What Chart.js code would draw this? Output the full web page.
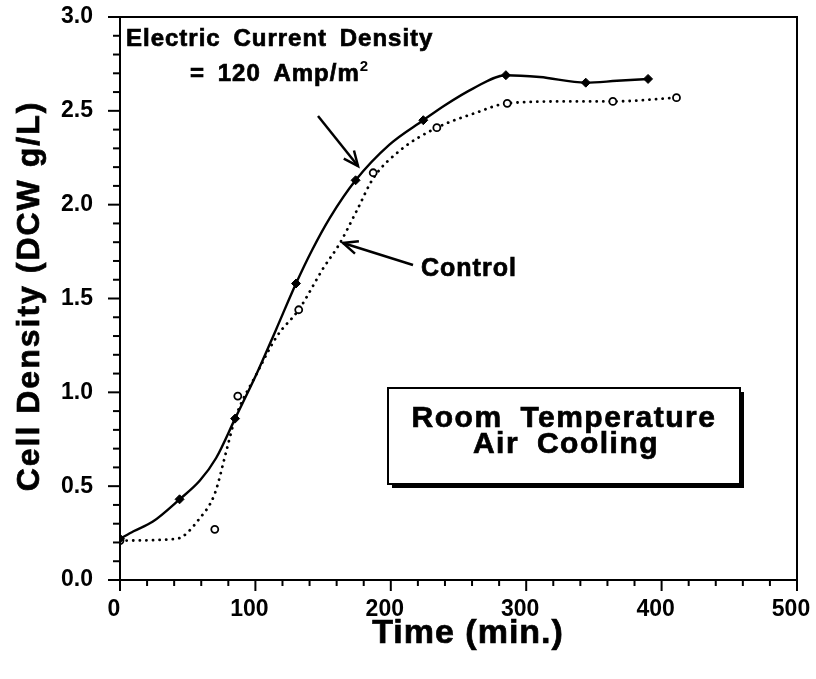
<!DOCTYPE html>
<html>
<head>
<meta charset="utf-8">
<script src="https://cdn.jsdelivr.net/npm/chart.js@4.4.1/dist/chart.umd.min.js"></script>
<style>
  html, body { margin: 0; padding: 0; background: #fff; }
  #wrap { width: 816px; height: 679px; }
</style>
</head>
<body>
<div id="wrap"><canvas id="myChart" width="816" height="679"></canvas></div>
<script>
// measured points, time (min) vs cell density (DCW g/L)
const timeEcd = [0, 44, 85, 130, 174, 224, 285, 344, 390];
const densEcd = [0.22, 0.43, 0.86, 1.58, 2.13, 2.45, 2.69, 2.65, 2.67];
const timeCtl = [0, 70, 87, 132, 187, 234, 286, 364, 411];
const densCtl = [0.21, 0.27, 0.98, 1.44, 2.17, 2.41, 2.54, 2.55, 2.57];

// hand drawn fit curves
const curveTimeEcd = [0, 10, 24, 44, 59, 71, 85, 101, 115, 130, 142, 155, 174, 199, 224, 240, 261, 285, 310, 344, 367, 390];
const curveDensEcd = [0.22, 0.26, 0.31, 0.43, 0.53, 0.65, 0.86, 1.10, 1.33, 1.58, 1.76, 1.93, 2.13, 2.32, 2.45, 2.53, 2.62, 2.69, 2.68, 2.65, 2.66, 2.67];
const curveTimeCtl = [0, 42, 59, 70, 79, 85, 101, 116, 132, 150, 162, 175, 187, 207, 234, 263, 286, 330, 364, 411];
const curveDensCtl = [0.21, 0.22, 0.33, 0.46, 0.70, 0.86, 1.10, 1.30, 1.44, 1.66, 1.79, 1.97, 2.14, 2.29, 2.41, 2.49, 2.54, 2.55, 2.55, 2.57];

const xTickLabels = [0, 100, 200, 300, 400, 500];
const yTickLabels = ['0.0', '0.5', '1.0', '1.5', '2.0', '2.5', '3.0'];

const FONT = "'Liberation Sans', Arial, Helvetica, sans-serif";
Chart.defaults.font.family = FONT;
Chart.defaults.color = '#000';

function toXY(xs, ys) {
  return xs.map((x, i) => ({ x: x, y: ys[i] }));
}
function isMajorY(v) {
  return yTickLabels.includes(Number(v).toFixed(1)) && Math.abs(v * 2 - Math.round(v * 2)) < 1e-6;
}
function isMajorX(v) {
  return xTickLabels.includes(Math.round(v)) && Math.abs(v - Math.round(v)) < 1e-6;
}

function arrow(ctx, x1, y1, x2, y2) {
  const a = Math.atan2(y2 - y1, x2 - x1);
  ctx.beginPath();
  ctx.moveTo(x1, y1);
  ctx.lineTo(x2, y2);
  ctx.stroke();
  ctx.beginPath();
  ctx.moveTo(x2 - 16 * Math.cos(a - 0.42), y2 - 16 * Math.sin(a - 0.42));
  ctx.lineTo(x2, y2);
  ctx.lineTo(x2 - 16 * Math.cos(a + 0.42), y2 - 16 * Math.sin(a + 0.42));
  ctx.stroke();
}

// bold text with a thin outline so it reads as heavy as the print
function heavyText(ctx, txt, x, y) {
  ctx.fillText(txt, x, y);
  ctx.lineWidth = 0.7;
  ctx.strokeText(txt, x, y);
}

const framePlugin = {
  id: 'frame',
  afterDraw(chart) {
    const ctx = chart.ctx;
    const xs = chart.scales.x, ys = chart.scales.y;
    const { left, right, top, bottom } = chart.chartArea;
    ctx.save();
    ctx.strokeStyle = '#000';
    ctx.fillStyle = '#000';
    ctx.lineCap = 'butt';

    // box
    ctx.lineWidth = 2;
    ctx.beginPath();
    ctx.moveTo(left - 8, top);
    ctx.lineTo(right, top);
    ctx.lineTo(right, bottom);
    ctx.moveTo(left, top);
    ctx.lineTo(left, bottom);
    ctx.lineTo(right, bottom);
    ctx.stroke();

    // ticks
    xs.ticks.forEach(t => {
      const px = xs.getPixelForValue(t.value);
      const len = isMajorX(t.value) ? 11 : 6;
      ctx.beginPath();
      ctx.moveTo(px, bottom);
      ctx.lineTo(px, bottom + len);
      ctx.stroke();
    });
    ys.ticks.forEach(t => {
      const py = ys.getPixelForValue(t.value);
      const len = isMajorY(t.value) ? 12 : 7;
      ctx.beginPath();
      ctx.moveTo(left, py);
      ctx.lineTo(left - len, py);
      ctx.stroke();
    });

    // axis titles
    ctx.textAlign = 'center';
    ctx.textBaseline = 'alphabetic';
    ctx.letterSpacing = '2px';
    ctx.font = 'bold 32px ' + FONT;
    ctx.save();
    ctx.translate(39, 296);
    ctx.rotate(-Math.PI / 2);
    heavyText(ctx, 'Cell Density (DCW g/L)', 0, 0);
    ctx.restore();
    ctx.letterSpacing = '1px';
    ctx.font = 'bold 34px ' + FONT;
    heavyText(ctx, 'Time (min.)', 468, 643);

    // annotations
    ctx.textAlign = 'left';
    ctx.letterSpacing = '1px';
    ctx.wordSpacing = '5px';
    ctx.font = 'bold 24px ' + FONT;
    heavyText(ctx, 'Electric Current Density', 126, 46);
    heavyText(ctx, '= 120 Amp/m', 190, 81);
    const w = ctx.measureText('= 120 Amp/m').width;
    ctx.font = 'bold 15px ' + FONT;
    ctx.fillText('2', 190 + w, 71);
    ctx.font = 'bold 25px ' + FONT;
    heavyText(ctx, 'Control', 421, 276);

    ctx.lineWidth = 2.5;
    arrow(ctx, 318, 116, 358, 166);
    arrow(ctx, 413, 265, 343, 243);

    // legend box with shadow
    ctx.fillRect(392, 392, 352, 96);
    ctx.fillStyle = '#fff';
    ctx.fillRect(388, 388, 352, 96);
    ctx.lineWidth = 2;
    ctx.strokeRect(388, 388, 352, 96);
    ctx.fillStyle = '#000';
    ctx.textAlign = 'center';
    ctx.letterSpacing = '1.5px';
    ctx.wordSpacing = '8px';
    ctx.font = 'bold 30px ' + FONT;
    heavyText(ctx, 'Room Temperature', 564, 427);
    heavyText(ctx, 'Air Cooling', 566, 453);
    ctx.restore();
  }
};

const ctx = document.getElementById('myChart').getContext('2d');
const myChart = new Chart(ctx, {
  type: 'scatter',
  data: {
    datasets: [
      {
        label: 'Electric current 120 A/m2',
        data: toXY(timeEcd, densEcd),
        pointStyle: 'rectRot',
        pointRadius: 4.5,
        backgroundColor: '#000',
        borderColor: '#000',
        borderWidth: 1
      },
      {
        label: 'Control',
        data: toXY(timeCtl, densCtl),
        pointStyle: 'circle',
        pointRadius: 3.5,
        backgroundColor: '#fff',
        borderColor: '#000',
        borderWidth: 1.8
      },
      {
        label: 'Electric fit',
        data: toXY(curveTimeEcd, curveDensEcd),
        showLine: true,
        pointRadius: 0,
        borderColor: '#000',
        borderWidth: 2.4,
        cubicInterpolationMode: 'monotone'
      },
      {
        label: 'Control fit',
        data: toXY(curveTimeCtl, curveDensCtl),
        showLine: true,
        pointRadius: 0,
        borderColor: '#000',
        borderWidth: 2.8,
        borderDash: [0.1, 6.5],
        borderCapStyle: 'round',
        cubicInterpolationMode: 'monotone'
      }
    ]
  },
  options: {
    responsive: false,
    animation: false,
    devicePixelRatio: 1,
    layout: { padding: { top: 17, right: 19, left: 0, bottom: 0 } },
    plugins: {
      legend: { display: false },
      tooltip: { enabled: false }
    },
    scales: {
      x: {
        type: 'linear',
        min: 0,
        max: 500,
        afterFit: s => { s.height = 99; s.paddingLeft = 0; s.paddingRight = 0; },
        grid: { display: false, drawTicks: false },
        border: { display: false },
        ticks: {
          stepSize: 20,
          autoSkip: false,
          maxRotation: 0,
          padding: 16,
          labelOffset: -6,
          font: { size: 23, weight: 'bold' },
          callback: v => isMajorX(v) ? String(Math.round(v)) : ''
        }
      },
      y: {
        min: 0,
        max: 3,
        afterFit: s => { s.width = 120; s.paddingTop = 0; s.paddingBottom = 0; },
        grid: { display: false, drawTicks: false },
        border: { display: false },
        ticks: {
          stepSize: 0.1,
          autoSkip: false,
          padding: 27,
          font: { size: 23, weight: 'bold' },
          callback: v => isMajorY(v) ? Number(v).toFixed(1) : ''
        }
      }
    }
  },
  plugins: [framePlugin]
});
</script>
</body>
</html>
